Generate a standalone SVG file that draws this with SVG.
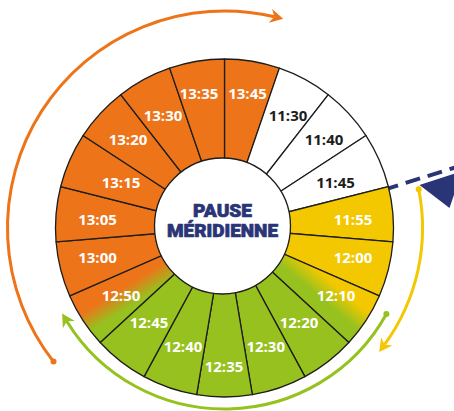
<svg xmlns="http://www.w3.org/2000/svg" width="454" height="411" viewBox="0 0 454 411">
<style>
.seg{stroke:#1d1d1b;stroke-width:1.3;stroke-linejoin:round}
.o{fill:#ED7419}.y{fill:#F3C800}.g{fill:#96C11E}.w{fill:#fff}
.lbl{font-family:"Open Sans","Liberation Sans",sans-serif;font-weight:700;font-size:15px;text-anchor:middle;fill:#fff}
.dk{fill:#1d1d1b}
.title{font-family:Roboto,"Liberation Sans",sans-serif;font-weight:900;font-size:18px;text-anchor:middle;fill:#293577;stroke:#293577;stroke-width:0.7;stroke-linejoin:round}
.arc{fill:none;stroke-width:3}
</style>
<defs>
<linearGradient id="gy" gradientUnits="userSpaceOnUse" x1="328.4" y1="279.1" x2="315.6" y2="294.3">
<stop offset="0" stop-color="#F3C800"/><stop offset="1" stop-color="#96C11E"/>
</linearGradient>
<linearGradient id="go" gradientUnits="userSpaceOnUse" x1="121.2" y1="288.5" x2="131.8" y2="305.5">
<stop offset="0" stop-color="#ED7419"/><stop offset="1" stop-color="#96C11E"/>
</linearGradient>
<marker id="ah-o" markerUnits="userSpaceOnUse" viewBox="0 -8 14 16" refX="4" refY="0" markerWidth="14" markerHeight="16" orient="auto"><path d="M13,0 L0,-7 L4,0 L0,7 Z" fill="#ED7419"/></marker>
<marker id="ah-g" markerUnits="userSpaceOnUse" viewBox="0 -8 14 16" refX="4" refY="0" markerWidth="14" markerHeight="16" orient="auto"><path d="M13,0 L0,-7 L4,0 L0,7 Z" fill="#96C11E"/></marker>
<marker id="ah-y" markerUnits="userSpaceOnUse" viewBox="0 -8 14 16" refX="4" refY="0" markerWidth="14" markerHeight="16" orient="auto"><path d="M13,0 L0,-7 L4,0 L0,7 Z" fill="#F3C800"/></marker>
</defs>

<g id="connectors">
<path class="arc" stroke="#ED7419" d="M53.5,361.6 A217,217 0 0 1 274.4,16.8" marker-end="url(#ah-o)"/>
<circle cx="53.5" cy="361.6" r="3" fill="#ED7419"/>
<path class="arc" stroke="#96C11E" d="M386.4,314 A184,181 0 0 1 66.8,321.2" marker-end="url(#ah-g)"/>
<circle cx="386.4" cy="314" r="3" fill="#96C11E"/>
<path class="arc" stroke="#F3C800" d="M418.7,189.2 A198,198 0 0 1 384.5,344.7" marker-end="url(#ah-y)"/>
<circle cx="418.7" cy="189.2" r="3" fill="#F3C800"/>
<path d="M388.5,188.3 L456,167.2" fill="none" stroke="#293577" stroke-width="4" stroke-dasharray="15 8" stroke-dashoffset="5"/>
<polygon points="419.5,185 462,171 449.5,208" fill="#293577"/>
</g>

<g id="seg-1345"><path class="seg o" d="M224.5,228 L224.5,59 A169,169 0 0 1 279.37,68.16 Z"/><text class="lbl" x="247.5" y="99.3">13:45</text></g>
<g id="seg-1130"><path class="seg w" d="M224.5,228 L279.37,68.16 A169,169 0 0 1 328.30,94.64 Z"/><text class="lbl dk" x="288" y="121.3">11:30</text></g>
<g id="seg-1140"><path class="seg w" d="M224.5,228 L328.30,94.64 A169,169 0 0 1 365.99,135.57 Z"/><text class="lbl dk" x="324" y="145.3">11:40</text></g>
<g id="seg-1145"><path class="seg w" d="M224.5,228 L365.99,135.57 A169,169 0 0 1 388.33,186.51 Z"/><text class="lbl dk" x="335.5" y="188.3">11:45</text></g>
<g id="seg-1155"><path class="seg y" d="M224.5,228 L388.33,186.51 A169,169 0 0 1 392.93,241.96 Z"/><text class="lbl" x="353" y="224.8">11:55</text></g>
<g id="seg-1200"><path class="seg y" d="M224.5,228 L392.93,241.96 A169,169 0 0 1 379.27,295.89 Z"/><text class="lbl" x="353" y="263.3">12:00</text></g>
<g id="seg-1210"><path class="seg" fill="url(#gy)" d="M224.5,228 L379.27,295.89 A169,169 0 0 1 348.83,342.46 Z"/><text class="lbl" x="336" y="301.3">12:10</text></g>
<g id="seg-1220"><path class="seg g" d="M224.5,228 L348.83,342.46 A169,169 0 0 1 304.93,376.64 Z"/><text class="lbl" x="299" y="327.8">12:20</text></g>
<g id="seg-1230"><path class="seg g" d="M224.5,228 L304.93,376.64 A169,169 0 0 1 252.32,394.70 Z"/><text class="lbl" x="265.7" y="352.3">12:30</text></g>
<g id="seg-1235"><path class="seg g" d="M224.5,228 L252.32,394.70 A169,169 0 0 1 196.68,394.70 Z"/><text class="lbl" x="224" y="371.5">12:35</text></g>
<g id="seg-1240"><path class="seg g" d="M224.5,228 L196.68,394.70 A169,169 0 0 1 144.07,376.64 Z"/><text class="lbl" x="183" y="352.3">12:40</text></g>
<g id="seg-1245"><path class="seg g" d="M224.5,228 L144.07,376.64 A169,169 0 0 1 100.17,342.46 Z"/><text class="lbl" x="149" y="327.8">12:45</text></g>
<g id="seg-1250"><path class="seg" fill="url(#go)" d="M224.5,228 L100.17,342.46 A169,169 0 0 1 69.73,295.89 Z"/><text class="lbl" x="121" y="301.3">12:50</text></g>
<g id="seg-1300"><path class="seg o" d="M224.5,228 L69.73,295.89 A169,169 0 0 1 56.07,241.96 Z"/><text class="lbl" x="97.5" y="263.3">13:00</text></g>
<g id="seg-1305"><path class="seg o" d="M224.5,228 L56.07,241.96 A169,169 0 0 1 60.67,186.51 Z"/><text class="lbl" x="97.5" y="224.8">13:05</text></g>
<g id="seg-1315"><path class="seg o" d="M224.5,228 L60.67,186.51 A169,169 0 0 1 83.01,135.57 Z"/><text class="lbl" x="121" y="188.3">13:15</text></g>
<g id="seg-1320"><path class="seg o" d="M224.5,228 L83.01,135.57 A169,169 0 0 1 120.70,94.64 Z"/><text class="lbl" x="128" y="145.3">13:20</text></g>
<g id="seg-1330"><path class="seg o" d="M224.5,228 L120.70,94.64 A169,169 0 0 1 169.63,68.16 Z"/><text class="lbl" x="163" y="121.3">13:30</text></g>
<g id="seg-1335"><path class="seg o" d="M224.5,228 L169.63,68.16 A169,169 0 0 1 224.5,59 Z"/><text class="lbl" x="199" y="99.3">13:35</text></g>

<g id="center">
<circle cx="222.5" cy="226" r="68" fill="#fff" stroke="#1d1d1b" stroke-width="1.3"/>
<text class="title" x="222.5" y="217" textLength="59" lengthAdjust="spacingAndGlyphs">PAUSE</text>
<text class="title" x="222.5" y="237" textLength="111" lengthAdjust="spacingAndGlyphs">MÉRIDIENNE</text>
</g>
</svg>
